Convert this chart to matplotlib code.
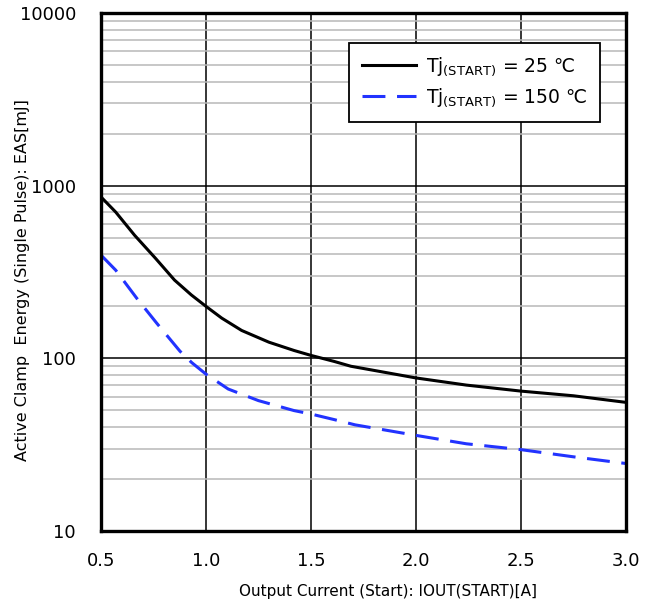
import numpy as np
from matplotlib import pyplot as plt
from matplotlib.ticker import FixedLocator, LogLocator, NullFormatter

# values
current_25 = [0.5, 0.57, 0.66, 0.76, 0.85, 0.93, 1.0, 1.075, 1.17, 1.3,
              1.42, 1.5, 1.61, 1.69, 2.0, 2.24, 2.5, 2.75, 3.0]
eas_25 = [860, 703, 516, 379, 284, 233, 200, 171, 145, 124,
          111, 104, 96, 90, 77, 70, 64.6, 60.7, 55.6]

current_150 = [0.5, 0.57, 0.67, 0.765, 0.876, 0.932, 1.0, 1.106, 1.25,
               1.42, 1.5, 1.61, 1.71, 2.0, 2.24, 2.5, 2.75, 3.0]
eas_150 = [396, 324, 223, 160, 110, 94.5, 81, 66.4, 56.9,
           49.8, 47.6, 44.2, 41.2, 35.8, 32, 29.6, 26.9, 24.6]

x_ticks = [0.5, 1.0, 1.5, 2.0, 2.5, 3.0]
y_ticks = [10, 100, 1000, 10000]

plt.rcParams['font.family'] = ['DejaVu Sans']

fig = plt.figure(figsize=(6.56, 6.10), dpi=100)
ax = fig.add_axes([0.154, 0.1295, 0.8, 0.8492])

ax.plot(current_25, eas_25, color='black', lw=2.2,
        label='Tj$_{\\mathregular{(START)}}$ = 25 \u2103')
ax.plot(current_150, eas_150, color='#2233ff', lw=2.2, dashes=(7.5, 3.8),
        label='Tj$_{\\mathregular{(START)}}$ = 150 \u2103')

ax.set_yscale('log')
ax.set_xlim(0.5, 3.0)
ax.set_ylim(10, 10000)
ax.xaxis.set_major_locator(FixedLocator(x_ticks))
ax.set_xticklabels(['%.1f' % v for v in x_ticks])
ax.yaxis.set_major_locator(FixedLocator(y_ticks))
ax.set_yticklabels([str(v) for v in y_ticks])
ax.yaxis.set_minor_locator(LogLocator(base=10, subs=np.arange(2, 10)))
ax.yaxis.set_minor_formatter(NullFormatter())

ax.grid(which='major', color='black', lw=1.1)
ax.grid(which='minor', axis='y', color='#b8b8b8', lw=1.1)
ax.set_axisbelow(True)
ax.tick_params(which='both', length=0, labelsize=13)
ax.tick_params(axis='x', pad=15)
ax.tick_params(axis='y', pad=18)

for s in ax.spines.values():
    s.set_linewidth(2.4)

ax.set_xlabel('Output Current (Start): IOUT(START)[A]', fontsize=11)
ax.xaxis.set_label_coords(0.547, -0.102)
ax.set_ylabel('Active Clamp  Energy (Single Pulse): EAS[mJ]', fontsize=11.5)
ax.yaxis.set_label_coords(-0.135, 0.485)

leg = ax.legend(loc='upper right', bbox_to_anchor=(0.9505, 0.9427),
                borderaxespad=0, fontsize=13.5, fancybox=False, framealpha=1,
                edgecolor='black', handlelength=2.9, handletextpad=0.5,
                borderpad=0.7, labelspacing=0.45)
leg.get_frame().set_linewidth(1.3)

fig.savefig('out.png')
